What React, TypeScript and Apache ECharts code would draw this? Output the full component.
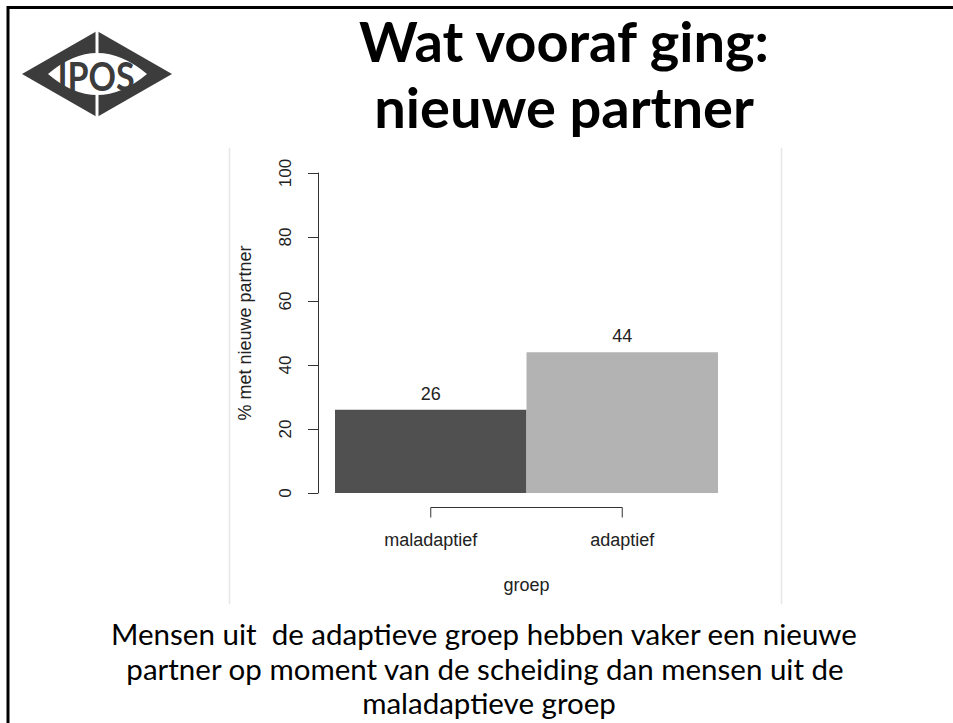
import React, { useEffect, useRef } from "react";
import * as echarts from "echarts";

const categories = ["maladaptief", "adaptief"];
const values = [26, 44];
const barColors = ["#505050", "#b3b3b3"];
const yTicks = { min: 0, max: 100, interval: 20 };
const yTitle = "% met nieuwe partner";
const xTitle = "groep";
const titleLines = ["Wat vooraf ging:", "nieuwe partner"];
const captionLines = [
  "Mensen uit  de adaptieve groep hebben vaker een nieuwe",
  "partner op moment van de scheiding dan mensen uit de",
  "maladaptieve groep",
];

const LENS_D = "M48,74 Q97,32 147,74 Q97,116 48,74 Z";
let registered = false;
function registerShapes() {
  if (registered) return;
  echarts.graphic.registerShape("ipolens", echarts.graphic.extendPath(LENS_D, {}) as any);
  registered = true;
}

export default function App() {
  const ref = useRef<HTMLDivElement>(null);
  useEffect(() => {
    document.body.style.margin = "0";
    registerShapes();
    const chart = echarts.init(ref.current!, null, { renderer: "svg" });
    const chartFont = "Liberation Sans";
    const txt = (text: string, x: number, y: number, size: number, weight: any, family: string, color = "#000", extra: any = {}) => ({
      type: "text",
      x,
      y,
      ...extra,
      style: {
        text,
        fontSize: size,
        fontWeight: weight,
        fontFamily: family,
        fill: color,
        align: "center",
        verticalAlign: "middle",
        textAlign: "center",
        textVerticalAlign: "middle",
      },
    });
    chart.setOption({
      animation: false,
      backgroundColor: "#fff",
      grid: { left: 335, right: 235, top: 173, bottom: 230, containLabel: false },
      xAxis: {
        type: "category",
        data: categories,
        axisLine: { show: false },
        axisTick: { show: false },
        axisLabel: { margin: 38, fontSize: 18, color: "#222", fontFamily: chartFont },
        name: xTitle,
        nameLocation: "middle",
        nameGap: 83,
        nameTextStyle: { fontSize: 18, color: "#222", fontFamily: chartFont },
        splitLine: { show: false },
      },
      yAxis: {
        type: "value",
        min: yTicks.min,
        max: yTicks.max,
        interval: yTicks.interval,
        offset: 17,
        axisLine: { show: true, lineStyle: { color: "#333", width: 1 } },
        axisTick: { show: true, length: 10, lineStyle: { color: "#333", width: 1 } },
        axisLabel: { rotate: 90, margin: 24, fontSize: 17, color: "#222", fontFamily: chartFont },
        splitLine: { show: false },
        name: yTitle,
        nameLocation: "middle",
        nameGap: 64,
        nameTextStyle: { fontSize: 18, color: "#222", fontFamily: chartFont },
      },
      series: [
        {
          type: "bar",
          data: values.map((v, i) => ({ value: v, itemStyle: { color: barColors[i] } })),
          barCategoryGap: "0%",
          label: {
            show: true,
            position: "top",
            distance: 7,
            fontSize: 18,
            color: "#222",
            fontFamily: chartFont,
          },
        },
        {
          type: "custom",
          data: [[0, 0]],
          clip: false,
          silent: true,
          renderItem: (params: any, api: any) => {
            const p0 = api.coord([0, 0]);
            const p1 = api.coord([categories.length - 1, 0]);
            const y = p0[1] + 14.5;
            return {
              type: "polyline",
              shape: {
                points: [
                  [p0[0], y + 10],
                  [p0[0], y],
                  [p1[0], y],
                  [p1[0], y + 10],
                ],
              },
              style: { stroke: "#333", fill: "none", lineWidth: 1 },
            };
          },
        },
      ],
      graphic: [
        { type: "rect", shape: { x: 8, y: 7.5, width: 1000, height: 800 }, style: { fill: "none", stroke: "#000", lineWidth: 3 }, silent: true },
        { type: "line", shape: { x1: 229.5, y1: 148, x2: 229.5, y2: 604 }, style: { stroke: "#e6e6e6", lineWidth: 1.5 }, silent: true },
        { type: "line", shape: { x1: 781.5, y1: 148, x2: 781.5, y2: 604 }, style: { stroke: "#e6e6e6", lineWidth: 1.5 }, silent: true },
        { type: "polygon", shape: { points: [[22, 74], [97, 31], [172, 74], [97, 117]] }, style: { fill: "#3c3c3c" }, silent: true },
        { type: "ipolens", x: 0, y: 0, style: { fill: "#fff" }, silent: true },
        { type: "rect", shape: { x: 95.5, y: 26, width: 3, height: 96 }, style: { fill: "#fff" }, silent: true },
        txt("IPOS", 96, 75, 40, "bold", "Lato", "#3c3c3c", { scaleX: 0.85, originX: 0, originY: 0 }),
        txt(titleLines[0], 564, 40, 56, "bold", "Lato"),
        txt(titleLines[1], 564, 106, 56, "bold", "Lato"),
        txt(captionLines[0], 484, 633, 29.5, "normal", "Lato"),
        txt(captionLines[1], 485, 668, 29.5, "normal", "Lato"),
        txt(captionLines[2], 489, 702, 29.5, "normal", "Lato"),
      ],
    });
    return () => chart.dispose();
  }, []);
  return <div ref={ref} style={{ width: 953, height: 723 }} />;
}
